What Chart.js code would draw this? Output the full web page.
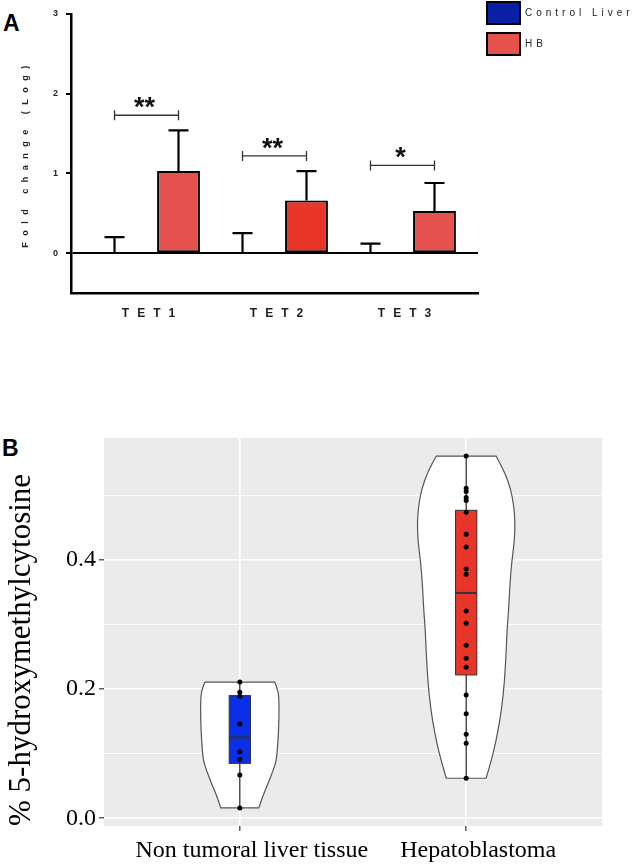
<!DOCTYPE html>
<html>
<head>
<meta charset="utf-8">
<script src="https://cdn.jsdelivr.net/npm/chart.js@4.4.0/dist/chart.umd.min.js"></script>
<style>
    html, body { margin: 0; padding: 0; background: #fff; width: 634px; height: 865px; overflow: hidden; position: relative; }
    canvas { position: absolute; left: 0; }
    #chartA { top: -7px; }
    #chartB { top: 430px; }
    .panel-label { position: absolute; font: bold 23px "Liberation Sans", Arial, sans-serif; line-height: 1; color: #000; }
</style>
</head>
<body>
<div class="panel-label" style="left:3px; top:12px;">A</div>
<div class="panel-label" style="left:2px; top:437px;">B</div>
<canvas id="chartA" width="634" height="340"></canvas>
<canvas id="chartB" width="634" height="435"></canvas>

<script>
// ---- A: TET expression (log fold change)
const genes = ['TET1', 'TET2', 'TET3'];
const controlMean = [0, 0, 0];
const controlSD = [0.20, 0.25, 0.12];
const hbMean = [1.03, 0.66, 0.53];
const hbSD = [0.51, 0.37, 0.35];
const sigHeight = [1.73, 1.22, 1.10];
const sigMark = ['**', '**', '*'];
const foldTicks = [0, 1, 2, 3];

// ---- B: % 5-hydroxymethylcytosine
const groups = ['Non tumoral liver tissue', 'Hepatoblastoma'];
const nonTumoral = [0.211, 0.195, 0.189, 0.146, 0.103, 0.091, 0.067, 0.016];
const hepatoblastoma = [0.561, 0.511, 0.506, 0.497, 0.492, 0.474, 0.440, 0.420, 0.386, 0.378,
                        0.321, 0.302, 0.268, 0.248, 0.234, 0.191, 0.162, 0.130, 0.116, 0.062];
const boxQ1 = [0.085, 0.222];
const boxMedian = [0.125, 0.349];
const boxQ3 = [0.190, 0.477];
// violin outline: half width (x units) at each level
const violinLevels1 = [0.016, 0.036, 0.054, 0.074, 0.090, 0.121, 0.152, 0.183, 0.198, 0.211];
const violinWidth1  = [0.084, 0.103, 0.125, 0.147, 0.162, 0.169, 0.173, 0.173, 0.169, 0.154];
const violinLevels2 = [0.062, 0.098, 0.134, 0.170, 0.211, 0.253, 0.294, 0.320, 0.361, 0.397, 0.428, 0.459, 0.485, 0.511, 0.537, 0.561];
const violinWidth2  = [0.088, 0.118, 0.140, 0.157, 0.169, 0.176, 0.181, 0.187, 0.193, 0.201, 0.213, 0.216, 0.210, 0.196, 0.169, 0.132];
const hmcTicks = [0, 0.1, 0.2, 0.3, 0.4, 0.5];
const hmcTickLabels = ['0.0', '', '0.2', '', '0.4', ''];

/**
 * 캔버스 글자 간격 적용 (원본 그림의 띄어 쓴 글자)
 */
function spaceText(obj, method, spacing) {
    const orig = obj[method];
    obj[method] = function(...args) {
        const ctx = this.ctx;
        const prev = ctx.letterSpacing;
        ctx.letterSpacing = spacing;
        const result = orig.apply(this, args);
        ctx.letterSpacing = prev;
        return result;
    };
}

const spacedText = {
    id: 'spacedText',
    beforeUpdate(chart) {
        if (chart.$legendSpaced || !chart.legend) return;
        chart.$legendSpaced = true;
        spaceText(chart.legend, 'fit', '4px');
        spaceText(chart.legend, 'draw', '4px');
    },
    beforeDraw(chart) {
        if (chart.$scalesSpaced) return;
        chart.$scalesSpaced = true;
        spaceText(chart.scales.x, 'drawLabels', '8px');
        spaceText(chart.scales.y, 'drawTitle', '6.5px');
    }
};

const errorBars = {
    id: 'errorBars',
    afterDatasetsDraw(chart) {
        const { ctx, scales: { y } } = chart;
        const sds = [controlSD, hbSD];
        const means = [controlMean, hbMean];
        ctx.save();
        ctx.strokeStyle = '#000';
        ctx.lineWidth = 2.2;
        sds.forEach((sd, di) => {
            chart.getDatasetMeta(di).data.forEach((bar, i) => {
                const top = y.getPixelForValue(means[di][i] + sd[i]);
                ctx.beginPath();
                ctx.moveTo(bar.x, y.getPixelForValue(means[di][i]));
                ctx.lineTo(bar.x, top);
                ctx.moveTo(bar.x - 10, top);
                ctx.lineTo(bar.x + 10, top);
                ctx.stroke();
            });
        });

        // 유의성 표시
        const ctrl = chart.getDatasetMeta(0).data;
        const hb = chart.getDatasetMeta(1).data;
        ctx.letterSpacing = '0px';
        genes.forEach((g, i) => {
            const x1 = ctrl[i].x, x2 = hb[i].x;
            const yy = y.getPixelForValue(sigHeight[i]);
            ctx.strokeStyle = '#333';
            ctx.lineWidth = 1.3;
            ctx.beginPath();
            ctx.moveTo(x1, yy); ctx.lineTo(x2, yy);
            ctx.moveTo(x1, yy - 5); ctx.lineTo(x1, yy + 5);
            ctx.moveTo(x2, yy - 5); ctx.lineTo(x2, yy + 5);
            ctx.stroke();
            ctx.fillStyle = '#111';
            ctx.font = 'bold 27px "Liberation Sans", Arial, sans-serif';
            ctx.textAlign = 'center';
            ctx.textBaseline = 'alphabetic';
            ctx.fillText(sigMark[i], (x1 + x2) / 2 - 2, yy + 1);
        });
        ctx.restore();
    }
};

new Chart(document.getElementById('chartA'), {
    type: 'bar',
    data: {
        datasets: [{
            label: 'Control Liver',
            data: genes.map((g, i) => ({ x: i + 1, y: controlMean[i] })),
            backgroundColor: '#0b1fa5',
            borderColor: '#000',
            borderWidth: 2,
            borderSkipped: false,
            categoryPercentage: 1,
            barPercentage: 0.67
        }, {
            label: 'HB',
            data: genes.map((g, i) => ({ x: i + 1, y: hbMean[i] })),
            backgroundColor: ['#e5514d', '#e8362a', '#e5514d'],
            borderColor: '#000',
            borderWidth: 2,
            borderSkipped: false,
            categoryPercentage: 1,
            barPercentage: 0.67
        }]
    },
    options: {
        responsive: false,
        animation: false,
        devicePixelRatio: 1,
        layout: { padding: 0 },
        plugins: {
            legend: {
                position: 'right',
                align: 'start',
                maxWidth: 156,
                labels: {
                    boxWidth: 33,
                    boxHeight: 22,
                    padding: 9,
                    color: '#222',
                    font: { family: 'Liberation Sans', size: 10 }
                }
            },
            tooltip: { enabled: false }
        },
        scales: {
            x: {
                type: 'linear',
                min: 0.41,
                max: 3.59,
                offset: false,
                grid: { display: false, drawTicks: false, offset: false },
                border: { color: '#000', width: 2.5 },
                ticks: {
                    color: '#222',
                    font: { family: 'Liberation Sans', size: 12, weight: 'bold' },
                    padding: 13,
                    labelOffset: 6,
                    maxRotation: 0,
                    callback: v => genes[Math.round(v) - 1]
                },
                afterBuildTicks: s => { s.ticks = genes.map((g, i) => ({ value: i + 1 })); },
                afterFit: s => { s.height = 40; s.paddingLeft = 0; s.paddingRight = 0; }
            },
            y: {
                min: -0.5,
                max: 3,
                border: { color: '#000', width: 2.5 },
                grid: {
                    color: c => (c.tick && c.tick.value === 0) ? '#000' : 'rgba(0,0,0,0)',
                    tickColor: '#000',
                    lineWidth: 2,
                    tickLength: 5
                },
                ticks: {
                    color: '#222',
                    font: { family: 'Liberation Sans', size: 9, weight: 'bold' },
                    padding: 8
                },
                title: {
                    display: true,
                    text: 'Fold change (Log)',
                    color: '#222',
                    font: { family: 'Liberation Sans', size: 9, weight: 'bold' },
                    padding: { top: 20, bottom: 0 }
                },
                afterBuildTicks: s => { s.ticks = foldTicks.map(v => ({ value: v })); },
                afterFit: s => { s.width = 71; s.paddingTop = 21; s.paddingBottom = 0; }
            }
        }
    },
    plugins: [spacedText, errorBars]
});

/**
 * 점들을 부드럽게 잇는 경로
 */
function smoothPath(ctx, pts, start) {
    if (start) ctx.moveTo(pts[0][0], pts[0][1]);
    else ctx.lineTo(pts[0][0], pts[0][1]);
    for (let i = 1; i < pts.length - 1; i++) {
        const mx = (pts[i][0] + pts[i + 1][0]) / 2;
        const my = (pts[i][1] + pts[i + 1][1]) / 2;
        ctx.quadraticCurveTo(pts[i][0], pts[i][1], mx, my);
    }
    const last = pts[pts.length - 1];
    ctx.lineTo(last[0], last[1]);
}

const violinBox = {
    id: 'violinBox',
    beforeDraw(chart) {
        const { ctx, chartArea: a } = chart;
        ctx.save();
        ctx.fillStyle = '#ebebeb';
        ctx.fillRect(a.left, a.top, a.width, a.height);
        ctx.restore();
    },
    beforeDatasetsDraw(chart) {
        const { ctx, scales: { x, y } } = chart;
        const violins = [[violinLevels1, violinWidth1], [violinLevels2, violinWidth2]];
        const samples = [nonTumoral, hepatoblastoma];
        const boxFill = ['#0a2fe6', '#e8352a'];
        const boxHalf = 0.047;
        ctx.save();
        violins.forEach(([levels, widths], g) => {
            const pos = g + 1;
            const left = levels.map((v, k) => [x.getPixelForValue(pos - widths[k]), y.getPixelForValue(v)]);
            const right = levels.map((v, k) => [x.getPixelForValue(pos + widths[k]), y.getPixelForValue(v)]).reverse();
            ctx.beginPath();
            smoothPath(ctx, left, true);
            smoothPath(ctx, right, false);
            ctx.closePath();
            ctx.fillStyle = '#fff';
            ctx.fill();
            ctx.strokeStyle = '#555';
            ctx.lineWidth = 1.2;
            ctx.stroke();

            // 수염
            const cx = x.getPixelForValue(pos);
            ctx.beginPath();
            ctx.moveTo(cx, y.getPixelForValue(Math.min(...samples[g])));
            ctx.lineTo(cx, y.getPixelForValue(Math.max(...samples[g])));
            ctx.strokeStyle = '#111';
            ctx.lineWidth = 1.1;
            ctx.stroke();

            // 상자
            const bl = x.getPixelForValue(pos - boxHalf);
            const br = x.getPixelForValue(pos + boxHalf);
            const bt = y.getPixelForValue(boxQ3[g]);
            const bb = y.getPixelForValue(boxQ1[g]);
            ctx.fillStyle = boxFill[g];
            ctx.fillRect(bl, bt, br - bl, bb - bt);
            ctx.strokeStyle = '#333';
            ctx.lineWidth = 1;
            ctx.strokeRect(bl, bt, br - bl, bb - bt);
            const my = y.getPixelForValue(boxMedian[g]);
            ctx.beginPath();
            ctx.moveTo(bl, my);
            ctx.lineTo(br, my);
            ctx.lineWidth = 2;
            ctx.stroke();
        });
        ctx.restore();
    }
};

const isMajor = c => c.tick && hmcTickLabels[hmcTicks.indexOf(Math.round(c.tick.value * 10) / 10)] !== '';

new Chart(document.getElementById('chartB'), {
    type: 'scatter',
    data: {
        datasets: [{
            data: nonTumoral.map(v => ({ x: 1, y: v })),
            backgroundColor: '#000',
            borderWidth: 0,
            pointRadius: 2.5
        }, {
            data: hepatoblastoma.map(v => ({ x: 2, y: v })),
            backgroundColor: '#000',
            borderWidth: 0,
            pointRadius: 2.5
        }]
    },
    options: {
        responsive: false,
        animation: false,
        devicePixelRatio: 1,
        layout: { padding: { top: 8, right: 32, left: 0, bottom: 0 } },
        plugins: { legend: { display: false }, tooltip: { enabled: false } },
        scales: {
            x: {
                type: 'linear',
                min: 0.4,
                max: 2.6,
                border: { display: false },
                grid: { color: '#fff', lineWidth: 1.6, tickColor: '#333', tickWidth: 1.2, tickLength: 5 },
                ticks: {
                    color: '#000',
                    font: { family: 'Liberation Serif', size: 24 },
                    padding: 5,
                    labelOffset: 12,
                    maxRotation: 0,
                    callback: v => groups[Math.round(v) - 1]
                },
                afterBuildTicks: s => { s.ticks = groups.map((g, i) => ({ value: i + 1 })); },
                afterFit: s => { s.height = 39; s.paddingLeft = 0; s.paddingRight = 0; }
            },
            y: {
                min: -0.012,
                max: 0.589,
                border: { display: false },
                grid: {
                    color: '#fff',
                    lineWidth: c => isMajor(c) ? 1.6 : 0.8,
                    tickColor: c => isMajor(c) ? '#333' : 'rgba(0,0,0,0)',
                    tickWidth: 1.2,
                    tickLength: 5
                },
                ticks: {
                    color: '#000',
                    font: { family: 'Liberation Serif', size: 24 },
                    padding: 3,
                    callback: (v, i) => hmcTickLabels[i]
                },
                title: {
                    display: true,
                    text: '% 5-hydroxymethylcytosine',
                    align: 'start',
                    color: '#000',
                    font: { family: 'Liberation Serif', size: 31 },
                    padding: { top: 3, bottom: 0 }
                },
                afterBuildTicks: s => { s.ticks = hmcTicks.map(v => ({ value: v })); },
                afterFit: s => { s.width = 104; s.paddingTop = 0; s.paddingBottom = 0; }
            }
        }
    },
    plugins: [violinBox]
});
</script>
</body>
</html>
